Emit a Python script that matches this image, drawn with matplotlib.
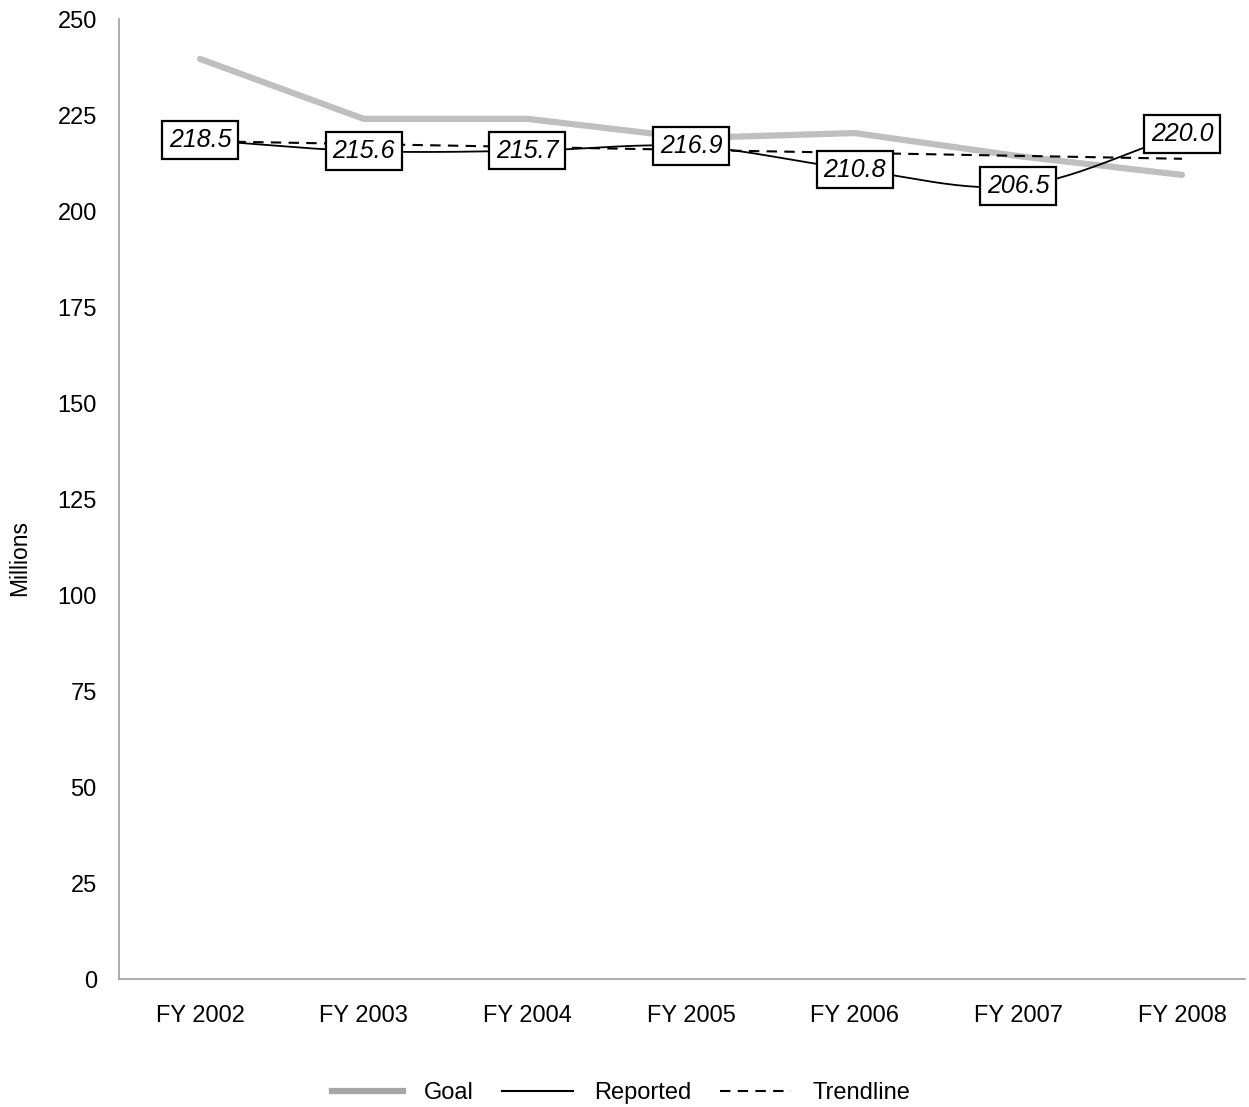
import numpy as np
import matplotlib.pyplot as plt
from matplotlib.lines import Line2D

plt.rcParams['font.family'] = ['Liberation Sans', 'DejaVu Sans']

years = ["FY 2002", "FY 2003", "FY 2004", "FY 2005", "FY 2006", "FY 2007", "FY 2008"]
goal = [239.6, 224.0, 224.0, 219.0, 220.3, 214.3, 209.4]
reported = [218.5, 215.6, 215.7, 216.9, 210.8, 206.5, 220.0]
trend_ends = [218.2, 213.6]
yticks = [0, 25, 50, 75, 100, 125, 150, 175, 200, 225, 250]


def smooth(xs, ys, n=30):
    # catmull-rom curve through the points, like excel's smoothed line
    xs = np.asarray(xs, float)
    ys = np.asarray(ys, float)
    px = np.concatenate([[2 * xs[0] - xs[1]], xs, [2 * xs[-1] - xs[-2]]])
    py = np.concatenate([[2 * ys[0] - ys[1]], ys, [2 * ys[-1] - ys[-2]]])
    ox, oy = [], []
    t = np.linspace(0, 1, n)
    for i in range(1, len(px) - 2):
        for p, o in ((px, ox), (py, oy)):
            p0, p1, p2, p3 = p[i - 1], p[i], p[i + 1], p[i + 2]
            o.extend(0.5 * ((2 * p1) + (-p0 + p2) * t
                            + (2 * p0 - 5 * p1 + 4 * p2 - p3) * t ** 2
                            + (-p0 + 3 * p1 - 3 * p2 + p3) * t ** 3))
    return ox, oy


fig = plt.figure(figsize=(12.49, 11.07), dpi=100)
ax = fig.add_axes([119 / 1249, 1 - 979 / 1107, (1245 - 119) / 1249, 960 / 1107])

x = np.arange(len(years))
ax.plot(x, goal, color="#BFBFBF", lw=4.5, solid_capstyle="round", zorder=2)
sx, sy = smooth(x, reported)
ax.plot(sx, sy, color="black", lw=1.3, zorder=3)
ax.plot([x[0], x[-1]], trend_ends, color="black", lw=1.5, ls=(0, (5, 3.5)), zorder=3)

for xi, v in zip(x, reported):
    ax.text(xi, v, f"{v:.1f}", ha="center", va="center", fontsize=18, style="italic",
            zorder=5,
            bbox=dict(boxstyle="square,pad=0.27", fc="white", ec="black", lw=1.6))

ax.set_xlim(-0.495, 6.385)
ax.set_ylim(0, 250)
ax.set_xticks(x)
ax.set_xticklabels(years, fontsize=17)
ax.set_yticks(yticks)
ax.set_yticklabels([str(t) for t in yticks], fontsize=17)
ax.tick_params(length=0)
ax.tick_params(axis="y", pad=16)
ax.tick_params(axis="x", pad=19)
for s in ("top", "right"):
    ax.spines[s].set_visible(False)
for s in ("left", "bottom"):
    ax.spines[s].set_color("#A6A6A6")
    ax.spines[s].set_linewidth(1.3)

fig.text(20 / 1249, 1 - 558 / 1107, "Millions", rotation=90, ha="center", va="center", fontsize=16.5)

handles = [Line2D([], [], color="#A6A6A6", lw=4.5),
           Line2D([], [], color="black", lw=1.5),
           Line2D([], [], color="black", lw=1.5, ls=(0, (5, 3.5)))]
fig.legend(handles, ["Goal", "Reported", "Trendline"], loc="center",
           bbox_to_anchor=(621 / 1249, 1 - 1093 / 1107), ncol=3, frameon=False,
           fontsize=17, handlelength=3.0, columnspacing=1.2, handletextpad=0.9)

fig.savefig("out.png", dpi=100)
